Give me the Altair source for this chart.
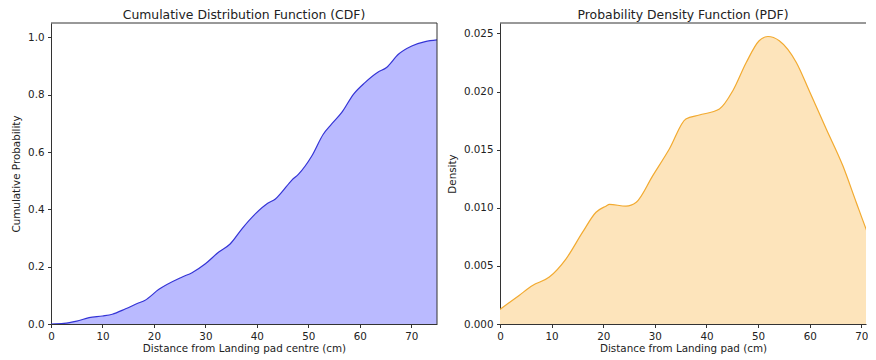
import altair as alt
import pandas as pd

# CDF curve
cdf_x = [0, 2.5, 5, 7.4, 10, 11.9, 14.5, 17.1, 18.2, 20.9, 25.5, 27.4, 30, 32.6, 34.8,
         37.1, 39.7, 42.1, 43.6, 44.8, 46.8, 48.1, 50.7, 52.9, 54.5, 56.5, 58.8, 61.0, 63.5,
         65.2, 67.5, 70.1, 72.7, 75]
cdf_y = [0, 0.002, 0.010, 0.022, 0.028, 0.034, 0.053, 0.074, 0.082, 0.120, 0.164, 0.179,
         0.210, 0.251, 0.279, 0.332, 0.384, 0.421, 0.436, 0.459, 0.502, 0.523, 0.587, 0.662,
         0.697, 0.738, 0.802, 0.842, 0.878, 0.895, 0.941, 0.970, 0.985, 0.991]

# PDF curve
pdf_x = [0, 3.7, 6.3, 9.55, 12.8, 16.0, 18.6, 20.5, 21.2, 24.4, 26.4, 29.6, 32.8, 36.0, 38.6,
         42.5, 45.1, 47.7, 50.2, 51.9, 54.1, 57.4, 59.9, 63.2, 66.4, 69.0, 70.9, 72.7, 75]
pdf_y = [0.00125, 0.00246, 0.00332, 0.00404, 0.00561, 0.00790, 0.00962, 0.01014, 0.01030,
         0.01014, 0.01048, 0.01277, 0.01506, 0.01764, 0.01798, 0.01850, 0.02007, 0.02250,
         0.02437, 0.02474, 0.02437, 0.02250, 0.02007, 0.01678, 0.01363, 0.01048, 0.00819,
         0.00619, 0.00350]

x_ticks = [0, 10, 20, 30, 40, 50, 60, 70]
cdf_ticks = [0.0, 0.2, 0.4, 0.6, 0.8, 1.0]
pdf_ticks = [0.0, 0.005, 0.010, 0.015, 0.020, 0.025]

cdf_df = pd.DataFrame({"x": cdf_x, "y": cdf_y})
pdf_df = pd.DataFrame({"x": pdf_x, "y": pdf_y})
one = pd.DataFrame({"a": [0]})

FRAME = "#333333"

def panel(df, fill, stroke, xtitle, ytitle, xmax, ydomain, yticks, yfmt, title, width, right_edge):
    xenc = alt.X("x:Q", scale=alt.Scale(domain=[0, xmax], nice=False, zero=False),
                 axis=alt.Axis(values=x_ticks, title=xtitle, labelFlush=False))
    yenc = alt.Y("y:Q", scale=alt.Scale(domain=ydomain, nice=False),
                 axis=alt.Axis(values=yticks, format=yfmt, title=ytitle))
    base = alt.Chart(df)
    area = base.mark_area(interpolate="monotone", color=fill, clip=True).encode(x=xenc, y=yenc)
    line = base.mark_line(interpolate="monotone", color=stroke, strokeWidth=1.2,
                          clip=True).encode(x=xenc, y=yenc)
    top = alt.Chart(one).mark_rule(color=FRAME, strokeWidth=1).encode(y=alt.value(0))
    layers = [area, line, top]
    if right_edge:
        layers.append(alt.Chart(one).mark_rule(color=FRAME, strokeWidth=1).encode(x=alt.value(width)))
    return alt.layer(*layers).properties(width=width, height=301, title=title)

left = panel(cdf_df, "#babaff", "#3434d6", "Distance from Landing pad centre (cm)",
             "Cumulative Probability", 75, [0, 1.05], cdf_ticks, ".1f",
             "Cumulative Distribution Function (CDF)", 386, True)
right = panel(pdf_df, "#fde4bb", "#f2aa30", "Distance from Landing pad (cm)",
              "Density", 70.9, [0, 0.0259], pdf_ticks, ".3f",
              "Probability Density Function (PDF)", 366, False)

chart = (
    alt.hconcat(left, right, spacing=9)
    .properties(padding={"left": 3, "top": 1, "right": 0, "bottom": 0})
    .configure(font="DejaVu Sans")
    .configure_view(strokeWidth=0)
    .configure_axis(domainColor=FRAME, tickColor=FRAME, labelColor="#222222",
                    titleColor="#222222", labelFontSize=10.35, titleFontSize=10.35,
                    titleFontWeight="normal", tickSize=3.5, labelPadding=3.5, grid=False,
                    labelFont="DejaVu Sans", titleFont="DejaVu Sans")
    .configure_axisY(titlePadding=6)
    .configure_axisX(titlePadding=2)
    .configure_title(fontSize=12.4, fontWeight="normal", offset=1, color="#222222",
                     font="DejaVu Sans")
)

chart.save("out.html", embed_options={"renderer": "svg", "actions": False})
